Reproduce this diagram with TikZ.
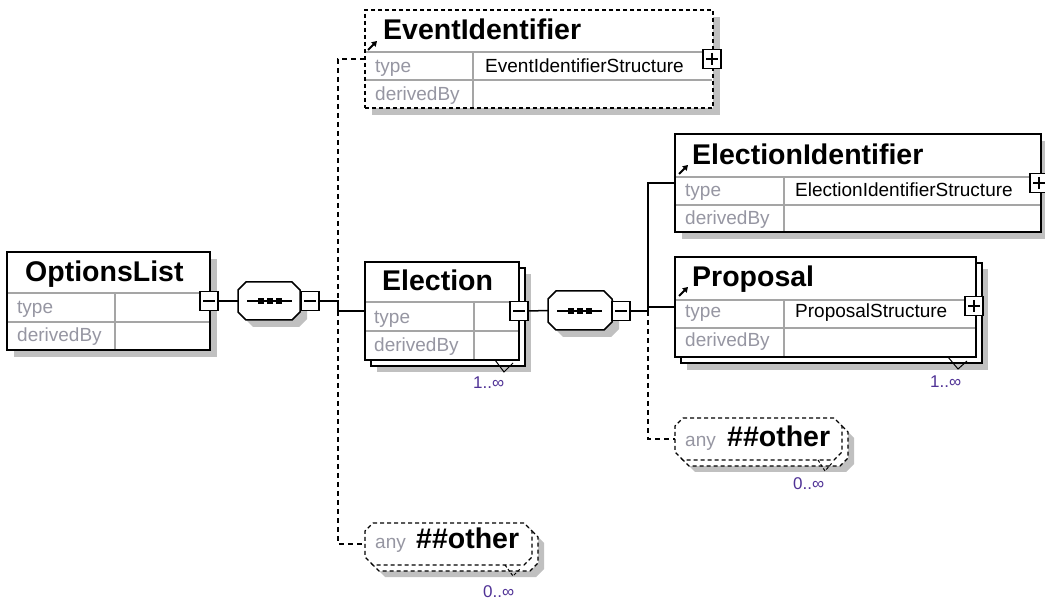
\documentclass[tikz,border=0pt]{standalone}
\usepackage{fontspec}
\setmainfont{Liberation Sans}
\usetikzlibrary{arrows.meta}
\definecolor{shadowc}{RGB}{192,192,192}
\definecolor{rowc}{RGB}{165,165,165}
\definecolor{lblc}{RGB}{150,150,162}
\definecolor{occc}{RGB}{80,50,150}
\newcommand\octpath[5]{({#1+#5},#2) -- ({#3-#5},#2) -- (#3,{#2+#5}) -- (#3,{#4-#5}) -- ({#3-#5},#4) -- ({#1+#5},#4) -- (#1,{#4-#5}) -- (#1,{#2+#5}) -- cycle}
\begin{document}
\begin{tikzpicture}[x=1pt,y=-1pt,line join=miter,
 shad/.style={fill=shadowc},
 ebox/.style={draw=black,line width=1.5pt,fill=white,rectangle,inner sep=0pt,outer sep=0pt,anchor=north west},
 dbox/.style={ebox,dash pattern=on 4pt off 3pt},
 ghost/.style={rectangle,inner sep=0pt,outer sep=0pt,anchor=north west},
 row/.style={draw=rowc,line width=1.2pt},
 pmbox/.style={draw=black,line width=1.3pt,fill=white,rectangle,inner sep=0pt,minimum width=18pt,minimum height=19pt},
 pmline/.style={draw=black,line width=1.3pt},
 ttl/.style={font=\fontsize{28.5}{30}\selectfont\bfseries,anchor=base west,inner sep=0pt},
 lbl/.style={font=\fontsize{19}{21}\selectfont,text=lblc,anchor=base west,inner sep=0pt},
 val/.style={font=\fontsize{19}{21}\selectfont,text=black,anchor=base west,inner sep=0pt},
 occ/.style={font=\fontsize{17}{19}\selectfont,text=occc,anchor=base west,inner sep=0pt},
 conn/.style={draw=black,line width=1.5pt},
 dconn/.style={draw=black,line width=1.5pt,dash pattern=on 5pt off 4pt},
 icon/.style={draw=black,line width=2pt,-{Triangle[length=5pt,width=6pt]}},
 oct/.style={draw=black,line width=1.5pt,fill=white},
 doct/.style={oct,dash pattern=on 4pt off 3pt},
]
\useasboundingbox (0,0) rectangle (1045,601);
\fill[white] (0,0) rectangle (1045,601);

% ---------- OptionsList ----------
\fill[shad] (14,259) rectangle (217,357);
\node[ebox,minimum width=203pt,minimum height=98pt] (opt) at (7,252) {};
\draw[row] (8,293) -- (209,293) (8,322) -- (209,322) (115,294) -- (115,349);
\node[ttl] (optT) at (25,282) {OptionsList};
\node[lbl] (optL1) at (17,314) {type};
\node[lbl] (optL2) at (17,342) {derivedBy};
\node[pmbox] (optM) at (209,301) {};
\draw[pmline] (203,301) -- (215,301);

% ---------- sequence 1 ----------
\fill[shad] \octpath{245}{289}{307}{327}{8};
\draw[oct] \octpath{238}{282}{300}{320}{8};
\node[ghost,minimum width=62pt,minimum height=38pt] (seq1) at (238,282) {};
\draw[line width=1.3pt] (247,301) -- (292,301);
\foreach \cx in {261,270,279} \fill (\cx-3,298) rectangle (\cx+3,304);
\node[pmbox] (seq1M) at (310,301) {};
\draw[pmline] (304,301) -- (316,301);

% ---------- EventIdentifier ----------
\fill[shad] (372,17) rectangle (720,115);
\node[dbox,minimum width=348pt,minimum height=98pt] (evt) at (365,10) {};
\draw[row] (366,52) -- (712,52) (366,80) -- (712,80) (473,53) -- (473,107);
\draw[icon] (368,50) -- (377,41);
\node[ttl] (evtT) at (383,40) {EventIdentifier};
\node[lbl] (evtL1) at (375,73) {type};
\node[val] (evtV) at (485,73) {EventIdentifierStructure};
\node[lbl] (evtL2) at (375,101) {derivedBy};
\node[pmbox] (evtP) at (712,59) {};
\draw[pmline] (706,59) -- (718,59) (712,53) -- (712,65);

% ---------- Election ----------
\fill[shad] (377,274) rectangle (531,372);
\node[ebox,minimum width=154pt,minimum height=98pt] (elec2) at (371,268) {};
\node[ebox,minimum width=154pt,minimum height=98pt] (elec) at (365,262) {};
\draw[row] (366,302) -- (518,302) (366,331) -- (518,331) (474,303) -- (474,359);
\node[ttl] (elecT) at (382,291) {Election};
\node[lbl] (elecL1) at (374,324) {type};
\node[lbl] (elecL2) at (374,352) {derivedBy};
\draw[line width=1pt] (495,360) -- (504,372) -- (513,363);
\node[occ] (elecO) at (473,389) {1..∞};
\node[pmbox] (elecM) at (519,311) {};
\draw[pmline] (513,311) -- (525,311);

% ---------- sequence 2 ----------
\fill[shad] \octpath{555}{298}{619}{337}{8};
\draw[oct] \octpath{548}{291}{612}{330}{8};
\node[ghost,minimum width=64pt,minimum height=39pt] (seq2) at (548,291) {};
\draw[line width=1.3pt] (557,311) -- (602,311);
\foreach \cx in {571,580,589} \fill (\cx-3,308) rectangle (\cx+3,314);
\node[pmbox] (seq2M) at (621,311) {};
\draw[pmline] (615,311) -- (627,311);

% ---------- ElectionIdentifier ----------
\fill[shad] (682,141) rectangle (1048,239);
\node[ebox,minimum width=366pt,minimum height=98pt] (eid) at (675,134) {};
\draw[row] (676,177) -- (1040,177) (676,205) -- (1040,205) (784,178) -- (784,231);
\draw[icon] (679,174) -- (688,165);
\node[ttl] (eidT) at (692,165) {ElectionIdentifier};
\node[lbl] (eidL1) at (685,197) {type};
\node[val] (eidV) at (795,197) {ElectionIdentifierStructure};
\node[lbl] (eidL2) at (685,225) {derivedBy};
\node[pmbox] (eidP) at (1039,183) {};
\draw[pmline] (1033,183) -- (1045,183) (1039,177) -- (1039,189);

% ---------- Proposal ----------
\fill[shad] (687,269) rectangle (988,370);
\node[ebox,minimum width=301pt,minimum height=100pt] (prop2) at (681,263) {};
\node[ebox,minimum width=301pt,minimum height=100pt] (prop) at (675,257) {};
\draw[row] (676,300) -- (975,300) (676,328) -- (975,328) (784,301) -- (784,356);
\draw[icon] (679,296) -- (688,287);
\node[ttl] (propT) at (692,287) {Proposal};
\node[lbl] (propL1) at (685,318) {type};
\node[val] (propV) at (795,318) {ProposalStructure};
\node[lbl] (propL2) at (685,347) {derivedBy};
\draw[line width=1pt] (948,357) -- (958,369) -- (967,361);
\node[occ] (propO) at (930,388) {1..∞};
\node[pmbox] (propP) at (974,306) {};
\draw[pmline] (968,306) -- (980,306) (974,300) -- (974,312);

% ---------- any ##other (right) ----------
\fill[shad] \octpath{687}{430}{854}{472}{8};
\draw[doct,line width=1.3pt] \octpath{681}{424}{848}{466}{8};
\draw[doct,line width=1.3pt] \octpath{675}{418}{842}{460}{8};
\node[ghost,minimum width=167pt,minimum height=42pt] (any1) at (675,418) {};
\node[lbl] (any1L) at (685,447) {any};
\node[ttl] (any1T) at (727,447) {\#\#other};
\draw[line width=1pt,dash pattern=on 3pt off 2pt] (818,460) -- (825,471) -- (832,463);
\node[occ] (any1O) at (793,490) {0..∞};

% ---------- any ##other (bottom) ----------
\fill[shad] \octpath{377}{535}{544}{577}{8};
\draw[doct,line width=1.3pt] \octpath{371}{529}{538}{571}{8};
\draw[doct,line width=1.3pt] \octpath{365}{523}{532}{565}{8};
\node[ghost,minimum width=167pt,minimum height=42pt] (any2) at (365,523) {};
\node[lbl] (any2L) at (375,548) {any};
\node[ttl] (any2T) at (416,548) {\#\#other};
\draw[line width=1pt,dash pattern=on 3pt off 2pt] (505,565) -- (513,576) -- (520,569);
\node[occ] (any2O) at (483,597) {0..∞};

% ---------- connectors ----------
\coordinate (j1a) at (338,301);
\coordinate (j1b) at (338,311);
\coordinate (j1top) at (338,59);
\coordinate (j1bot) at (338,544);
\coordinate (j2) at (648,311);
\coordinate (j2top) at (648,183);
\coordinate (j2p) at (648,307);
\coordinate (j2bot) at (648,439);

\draw[conn] (optM.east) -- (seq1.west);
\draw[dconn] (evt.west) -- (j1top) -- (j1bot) -- (any2.west);
\draw[conn] (seq1M.east) -- (j1a) -- (j1b) -- (elec.west);
\draw[conn] (elecM.east) -- (seq2.west);
\draw[dconn] (j2) -- (j2bot) -- (any1.west);
\draw[conn] (seq2M.east) -- (j2);
\draw[conn] (eid.west) -- (j2top) -- (j2);
\draw[conn] (j2p) -- (prop.west);
\end{tikzpicture}
\end{document}
